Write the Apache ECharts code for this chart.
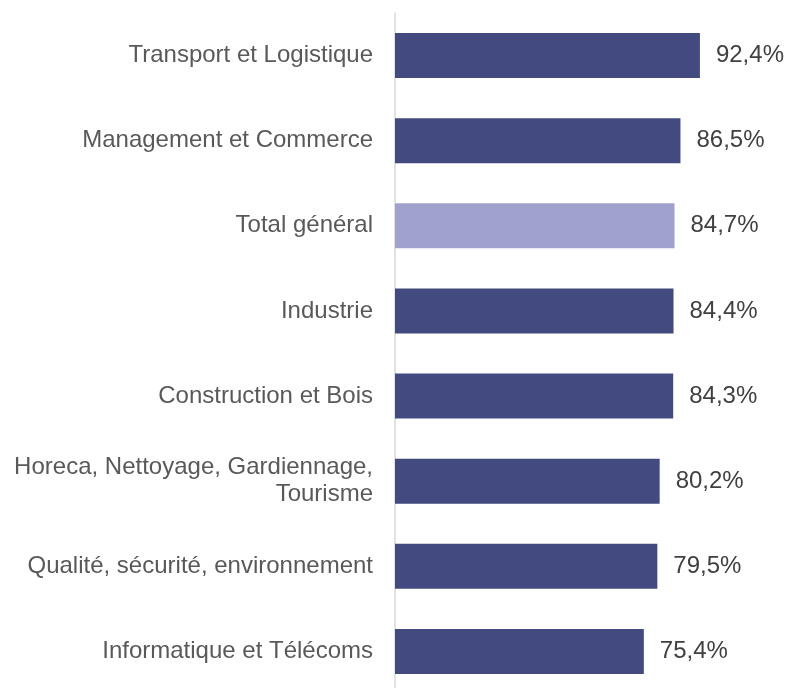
<!DOCTYPE html>
<html>
<head>
<meta charset="utf-8">
<script src="https://cdn.jsdelivr.net/npm/echarts@6/dist/echarts.min.js"></script>
<style>
  html, body { margin: 0; padding: 0; background: #ffffff; overflow: hidden; }
  /* the bottom band runs a little past the visible window */
  #chart { width: 789px; height: 700px; }
</style>
</head>
<body>
<div id="chart"></div>
<script>
// Secteurs, du haut vers le bas
const categories = [
  'Transport et Logistique',
  'Management et Commerce',
  'Total général',
  'Industrie',
  'Construction et Bois',
  'Horeca, Nettoyage, Gardiennage,\nTourisme',
  'Qualité, sécurité, environnement',
  'Informatique et Télécoms'
];
// Taux en %
const values = [92.4, 86.5, 84.7, 84.4, 84.3, 80.2, 79.5, 75.4];
// Ligne mise en évidence
const highlightCategory = 'Total général';

const darkColor = '#424a7f';
const lightColor = '#a0a2cd';

const chart = echarts.init(document.getElementById('chart'), null, { renderer: 'canvas' });

chart.setOption({
  animation: false,
  backgroundColor: '#ffffff',
  grid: { left: 395, width: 330, top: 13, height: 681, containLabel: false },
  xAxis: {
    type: 'value',
    min: 0,
    max: 100,
    show: false
  },
  yAxis: {
    type: 'category',
    inverse: true,
    data: categories,
    offset: 1.5,
    axisLine: { show: true, lineStyle: { color: '#d9d9d9', width: 1.5 } },
    axisTick: { show: false },
    splitLine: { show: false },
    axisLabel: {
      margin: 20.5,
      fontFamily: 'Liberation Sans, Arial, sans-serif',
      fontSize: 24,
      lineHeight: 27,
      color: '#595959',
      align: 'right'
    }
  },
  series: [{
    type: 'bar',
    barWidth: 45,
    data: values.map((v, i) => ({
      value: v,
      itemStyle: { color: categories[i] === highlightCategory ? lightColor : darkColor }
    })),
    label: {
      show: true,
      position: 'right',
      distance: 16,
      fontFamily: 'Liberation Sans, Arial, sans-serif',
      fontSize: 24,
      color: '#404040',
      formatter: p => p.value.toFixed(1).replace('.', ',') + '%'
    }
  }]
});
</script>
</body>
</html>
